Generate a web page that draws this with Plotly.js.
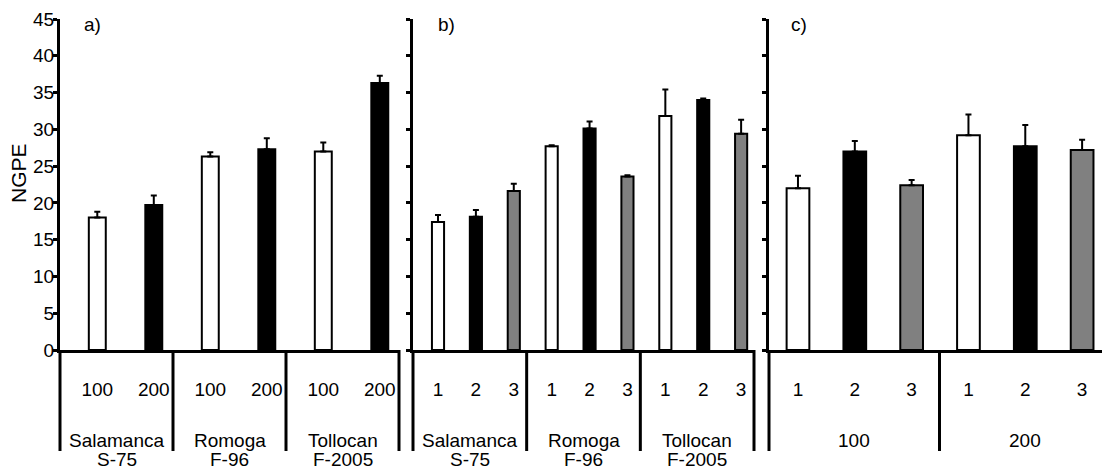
<!DOCTYPE html>
<html><head><meta charset="utf-8">
<script src="https://cdn.plot.ly/plotly-3.0.1.min.js"></script>
<style>html,body{margin:0;padding:0;background:#fff}#chart{width:1102px;height:472px}</style>
</head><body><div id="chart"></div>
<script>
// ---- data ----
// Panel a
const aGroups = [["Salamanca", "S-75"], ["Romoga", "F-96"], ["Tollocan", "F-2005"]];
const aSub = ["100", "200"];
const aVals = [18.0, 19.7, 26.3, 27.3, 27.0, 36.3];
const aErr  = [0.8, 1.3, 0.6, 1.5, 1.2, 1.0];
// Panel b
const bGroups = [["Salamanca", "S-75"], ["Romoga", "F-96"], ["Tollocan", "F-2005"]];
const bSub = ["1", "2", "3"];
const bVals = [17.4, 18.1, 21.6, 27.7, 30.1, 23.6, 31.8, 34.0, 29.4];
const bErr  = [0.95, 0.95, 1.0, 0.15, 0.95, 0.15, 3.6, 0.2, 1.9];
// Panel c
const cGroups = [["100"], ["200"]];
const cSub = ["1", "2", "3"];
const cVals = [22.0, 27.0, 22.4, 29.2, 27.7, 27.2];
const cErr  = [1.7, 1.4, 0.7, 2.8, 2.9, 1.4];
const panelLabels = ["a)", "b)", "c)"];
const yTitle = "NGPE";

// ---- styling ----
const W = 1102, H = 472;
const subColors = ["#ffffff", "#000000", "#808080"];
const FONT = "'Liberation Sans Narrow', 'Arial Narrow', 'Liberation Sans', Arial, sans-serif";
const FS = 19;
const yDom = [1 - 350 / H, 1 - 19 / H];
const panels = [
  {groups: aGroups, sub: aSub, vals: aVals, err: aErr, dom: [60 / W, 399 / W], r0: -0.66, bw: 0.3, showY: true},
  {groups: bGroups, sub: bSub, vals: bVals, err: bErr, dom: [413 / W, 754 / W], r0: -0.66, bw: 0.32, showY: false},
  {groups: cGroups, sub: cSub, vals: cVals, err: cErr, dom: [769 / W, 1], r0: -0.51, bw: 0.4, showY: false, rEnd: 5.35}
];

const traces = [];
const layout = {
  width: W, height: H, margin: {l: 0, r: 0, t: 0, b: 0},
  paper_bgcolor: "#fff", plot_bgcolor: "#fff", showlegend: false,
  font: {family: FONT, size: FS, color: "#000"},
  shapes: [], annotations: []
};

panels.forEach((p, k) => {
  const n = p.vals.length;
  const idx = p.vals.map((_, i) => i);
  const subText = idx.map(i => p.sub[i % p.sub.length]);
  const colors = idx.map(i => subColors[i % p.sub.length]);
  const xa = "x" + (k ? k + 1 : ""), ya = "y" + (k ? k + 1 : "");
  const xk = "xaxis" + (k ? k + 1 : ""), yk = "yaxis" + (k ? k + 1 : "");
  traces.push({
    type: "bar", x: idx, y: p.vals, width: p.bw, xaxis: xa, yaxis: ya,
    marker: {color: colors, line: {color: "#000", width: 2}},
    error_y: {type: "data", array: p.err, arrayminus: p.err.map(() => 0), symmetric: false,
              color: "#000", thickness: 2, width: 3},
    hoverinfo: "skip"
  });
  const gs = p.sub.length;
  const rEnd = p.rEnd !== undefined ? p.rEnd : p.r0 + n;
  const toPaper = v => p.dom[0] + (v - p.r0) / (rEnd - p.r0) * (p.dom[1] - p.dom[0]);
  layout[xk] = {
    domain: p.dom, anchor: ya, range: [p.r0, rEnd], showgrid: false, zeroline: false,
    showline: true, linecolor: "#000", linewidth: 3, ticks: "",
    tickmode: "array", tickvals: idx, ticktext: subText, ticklabelstandoff: 20,
    tickfont: {family: FONT, size: FS}, fixedrange: true
  };
  layout[yk] = {
    domain: yDom, anchor: xa, range: [0, 45], showgrid: false, zeroline: false,
    showline: true, linecolor: "#000", linewidth: 3, ticks: "outside", ticklen: 4, tickwidth: 3,
    tickcolor: "#000", dtick: 5, tick0: 0, showticklabels: p.showY, ticklabelstandoff: -5,
    tickfont: {family: FONT, size: FS}, fixedrange: true
  };
  // group dividers and labels
  for (let g = 0; g <= p.groups.length; g++) {
    const xb = toPaper(p.r0 + g * gs);
    if (xb > 1) continue;
    layout.shapes.push({type: "line", xref: "paper", yref: "paper", x0: xb, x1: xb,
      y0: yDom[0], y1: 1 - 451 / H, line: {color: "#000", width: 3}});
  }
  p.groups.forEach((lines, g) => {
    const xc = p.r0 + g * gs + gs / 2;
    lines.forEach((t, li) => {
      const ann = {xref: xa, yref: "paper", x: xc, xanchor: "center",
        text: t, showarrow: false, font: {family: FONT, size: FS}};
      if (li === 0) { ann.y = 1 - 440 / H; ann.yanchor = "middle"; }
      else { ann.y = 0; ann.yanchor = "bottom"; }
      layout.annotations.push(ann);
    });
  });
  // panel letter
  const lx = [92, 446, 799][k];
  layout.annotations.push({xref: "paper", yref: "paper", x: lx / W, y: 1 - 25 / H,
    xanchor: "center", yanchor: "middle", text: panelLabels[k], showarrow: false,
    font: {family: FONT, size: FS}});
});
layout.annotations.push({xref: "paper", yref: "paper", x: 18 / W, y: 1 - 173 / H,
  xanchor: "center", yanchor: "middle", textangle: -90, text: yTitle, showarrow: false,
  font: {family: "'Liberation Sans', Arial, sans-serif", size: 21}});

Plotly.newPlot("chart", traces, layout, {staticPlot: true, displayModeBar: false});
</script></body></html>
